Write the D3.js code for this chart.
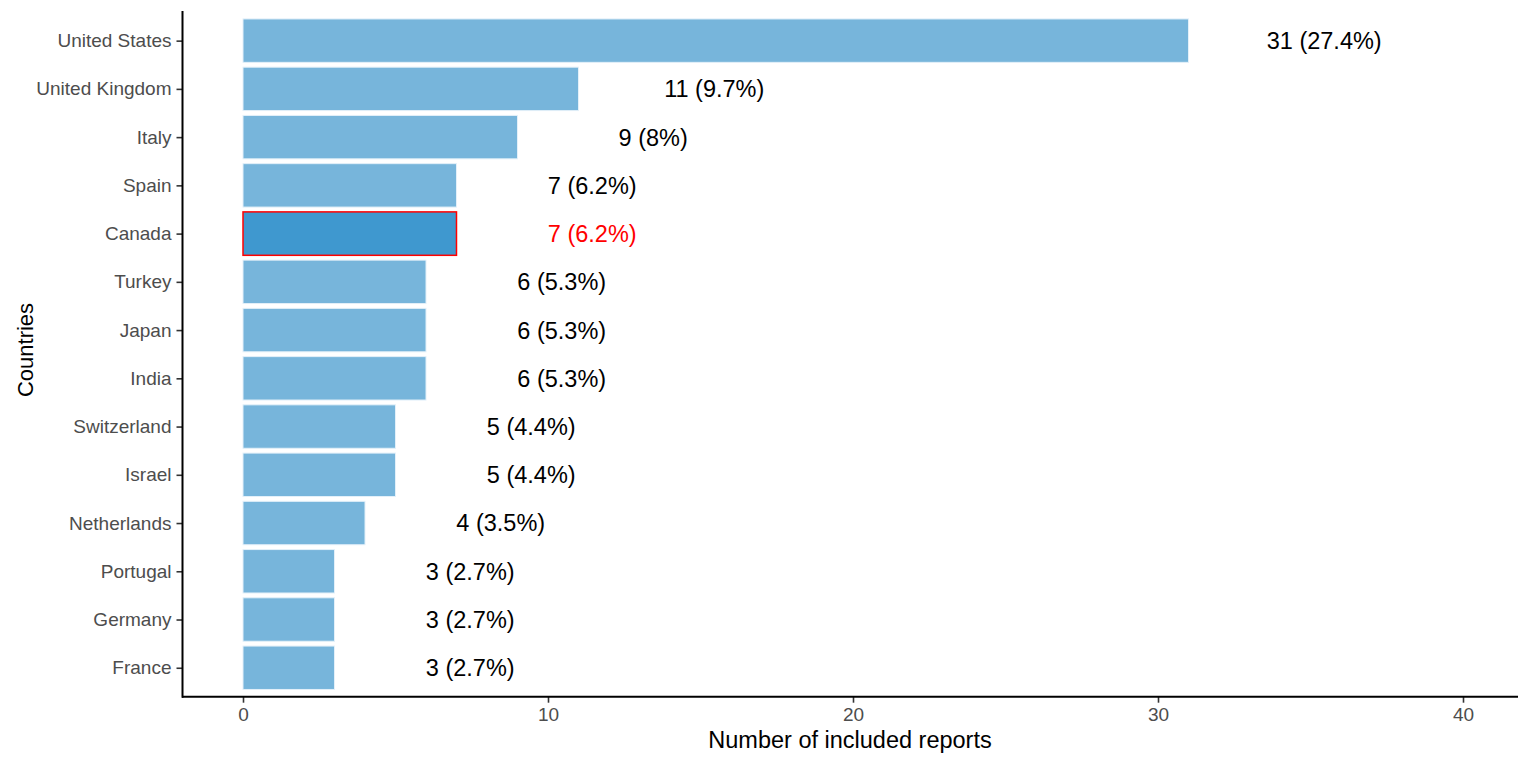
<!DOCTYPE html>
<html>
<head>
<meta charset="utf-8">
<script src="https://cdn.jsdelivr.net/npm/d3@7"></script>
<style>
  html, body { margin: 0; padding: 0; background: #fff; }
  svg { display: block; font-family: "Liberation Sans", Arial, sans-serif; }
</style>
</head>
<body>
<div id="chart"></div>
<script>
// ── Data ────────────────────────────────────────────────────────────────────
const countries = ['United States', 'United Kingdom', 'Italy', 'Spain', 'Canada', 'Turkey', 'Japan',
    'India', 'Switzerland', 'Israel', 'Netherlands', 'Portugal', 'Germany', 'France'];
const counts = [31, 11, 9, 7, 7, 6, 6, 6, 5, 5, 4, 3, 3, 3];
const percents = ['27.4', '9.7', '8', '6.2', '6.2', '5.3', '5.3', '5.3', '4.4', '4.4', '3.5', '2.7', '2.7', '2.7'];
const highlight = 'Canada';
const xTicks = [0, 10, 20, 30, 40];

const BAR_COLOR = '#77b5db';
const HIGHLIGHT_COLOR = '#3f98cf';
const FONT = '"Liberation Sans", Arial, sans-serif';
const W = 1530, H = 765;

const rows = countries.map((c, i) => ({ country: c, n: counts[i], pct: percents[i] }));

// x: 0 -> 243px, 40 -> 1463px, axis runs from 182 to 1518
const x = d3.scaleLinear().domain([0, 40]).range([243, 1463]);
const y = d3.scalePoint().domain(countries).range([11.7, 696.7]).padding(0.6);
const barH = y.step() * 0.9;

const svg = d3.select('#chart').append('svg')
    .attr('width', W)
    .attr('height', H);

// bars
svg.selectAll('.bar')
    .data(rows)
    .join('rect')
    .attr('class', 'bar')
    .attr('x', x(0))
    .attr('y', d => y(d.country) - barH / 2)
    .attr('width', d => x(d.n) - x(0))
    .attr('height', barH)
    .attr('fill', d => d.country === highlight ? HIGHLIGHT_COLOR : BAR_COLOR)
    .attr('stroke', d => d.country === highlight ? '#ff0000' : '#e3f0f9')
    .attr('stroke-width', d => d.country === highlight ? 1.5 : 1);

// value labels, offset 4.5 units right of bar end
svg.selectAll('.val')
    .data(rows)
    .join('text')
    .attr('class', 'val')
    .attr('x', d => x(d.n + 4.45))
    .attr('y', d => y(d.country))
    .attr('dy', '0.36em')
    .attr('text-anchor', 'middle')
    .attr('font-size', 23.5)
    .attr('fill', d => d.country === highlight ? '#ff0000' : '#000')
    .text(d => `${d.n} (${d.pct}%)`);

// axes
const xAxis = svg.append('g')
    .attr('transform', 'translate(0,696.7)')
    .call(d3.axisBottom(x).tickValues(xTicks).tickSize(6).tickPadding(5));
xAxis.select('.domain').remove();
xAxis.append('line')
    .attr('x1', 182).attr('x2', 1518)
    .attr('stroke', '#000').attr('stroke-width', 2);

const yAxis = svg.append('g')
    .attr('transform', 'translate(182.5,0)')
    .call(d3.axisLeft(y).tickSize(6).tickPadding(5));
yAxis.select('.domain').remove();
yAxis.append('line')
    .attr('y1', 11).attr('y2', 697.7)
    .attr('stroke', '#000').attr('stroke-width', 2);

[xAxis, yAxis].forEach(a => {
    a.selectAll('.tick line').attr('stroke', '#333').attr('stroke-width', 1.6);
    a.selectAll('.tick text')
        .attr('fill', '#4d4d4d')
        .attr('font-size', 19)
        .attr('font-family', FONT);
});

// titles
svg.append('text')
    .attr('x', (182 + 1518) / 2)
    .attr('y', 748)
    .attr('text-anchor', 'middle')
    .attr('font-size', 23.5)
    .attr('fill', '#000')
    .text('Number of included reports');

svg.append('text')
    .attr('transform', 'translate(33,350) rotate(-90)')
    .attr('text-anchor', 'middle')
    .attr('font-size', 22)
    .attr('fill', '#000')
    .text('Countries');
</script>
</body>
</html>
